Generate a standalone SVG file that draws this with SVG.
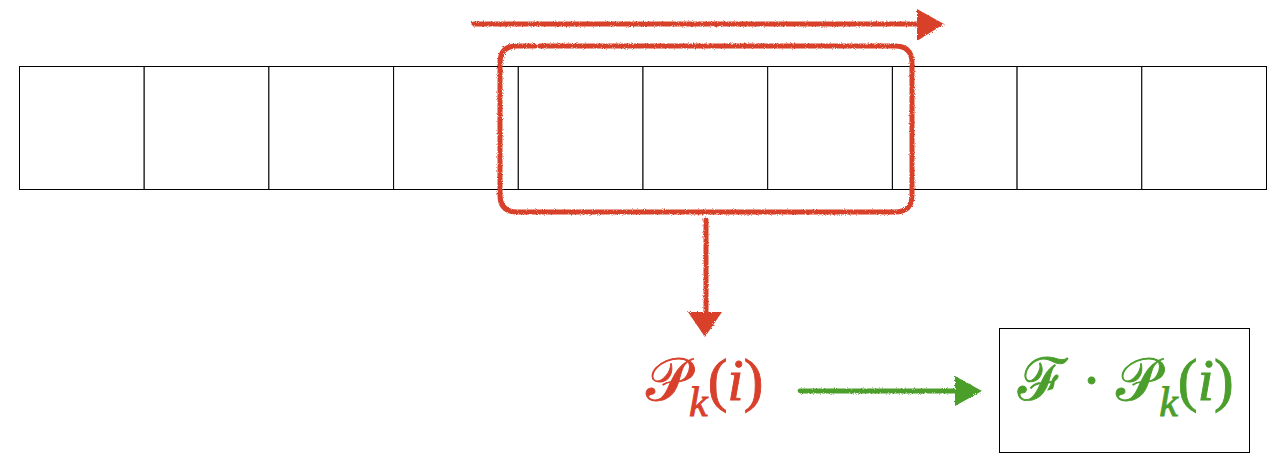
<svg xmlns="http://www.w3.org/2000/svg" width="1272" height="464" viewBox="0 0 1272 464">
<style>
.cell{fill:#fff;stroke:#000;stroke-width:1}
.red{fill:none;stroke:#d8402c;stroke-width:5;stroke-linecap:round;filter:url(#rough)}
.green{fill:none;stroke:#4b9e2c;stroke-width:5;stroke-linecap:round;filter:url(#rough)}
.math{font-family:"Liberation Serif","DejaVu Serif",serif;font-size:59px;stroke-width:0.9}
.it{font-family:"Liberation Serif",serif;font-style:italic}
.up{font-family:"Liberation Serif",serif}
</style>
<defs>
<filter id="rough" filterUnits="userSpaceOnUse" x="0" y="0" width="1272" height="464">
<feTurbulence type="fractalNoise" baseFrequency="1.1" numOctaves="2" seed="3" result="n"/>
<feDisplacementMap in="SourceGraphic" in2="n" scale="3"/>
</filter>
</defs>
<rect width="1272" height="464" fill="#fff"/>
<g id="array">
<rect class="cell" x="19.5" y="66.5" width="124.7" height="123"/>
<rect class="cell" x="144.2" y="66.5" width="124.7" height="123"/>
<rect class="cell" x="268.9" y="66.5" width="124.7" height="123"/>
<rect class="cell" x="393.6" y="66.5" width="124.7" height="123"/>
<rect class="cell" x="518.3" y="66.5" width="124.7" height="123"/>
<rect class="cell" x="643" y="66.5" width="124.7" height="123"/>
<rect class="cell" x="767.7" y="66.5" width="124.7" height="123"/>
<rect class="cell" x="892.4" y="66.5" width="124.7" height="123"/>
<rect class="cell" x="1017.1" y="66.5" width="124.7" height="123"/>
<rect class="cell" x="1141.8" y="66.5" width="124.7" height="123"/>
</g>
<g id="window">
<path class="red" d="M540,46 L895,46 Q912,46 912,63 L912,195 Q912,212 895,212 L517,212 Q500,212 500,195 L500,63 Q500,46 517,46 L535,46"/>
</g>
<g id="connectors">
<path class="red" d="M474,24 L920,24"/>
<path d="M917,9 L944,24 L917,41 Z" fill="#d8402c" filter="url(#rough)"/>
<path class="red" d="M706,220 L706,314"/>
<path d="M688,312 L722,312 L705,337 Z" fill="#d8402c" filter="url(#rough)"/>
<path class="green" d="M800,391 L958,391"/>
<path d="M955,376 L982,391 L955,406 Z" fill="#4b9e2c" filter="url(#rough)"/>
</g>
<g id="pk">
<text class="math" x="646" y="400" fill="#d8402c" stroke="#d8402c">𝒫<tspan class="it" font-size="42" dy="16">k</tspan><tspan class="up" dy="-16">(</tspan><tspan class="it">i</tspan><tspan class="up">)</tspan></text>
</g>
<g id="result">
<rect x="999.5" y="328.5" width="250" height="124" fill="none" stroke="#000" stroke-width="1"/>
<text class="math" x="1018" y="400" fill="#4b9e2c" stroke="#4b9e2c">ℱ<tspan class="up"> · </tspan>𝒫<tspan class="it" font-size="42" dy="16">k</tspan><tspan class="up" dy="-16">(</tspan><tspan class="it">i</tspan><tspan class="up">)</tspan></text>
</g>
</svg>
